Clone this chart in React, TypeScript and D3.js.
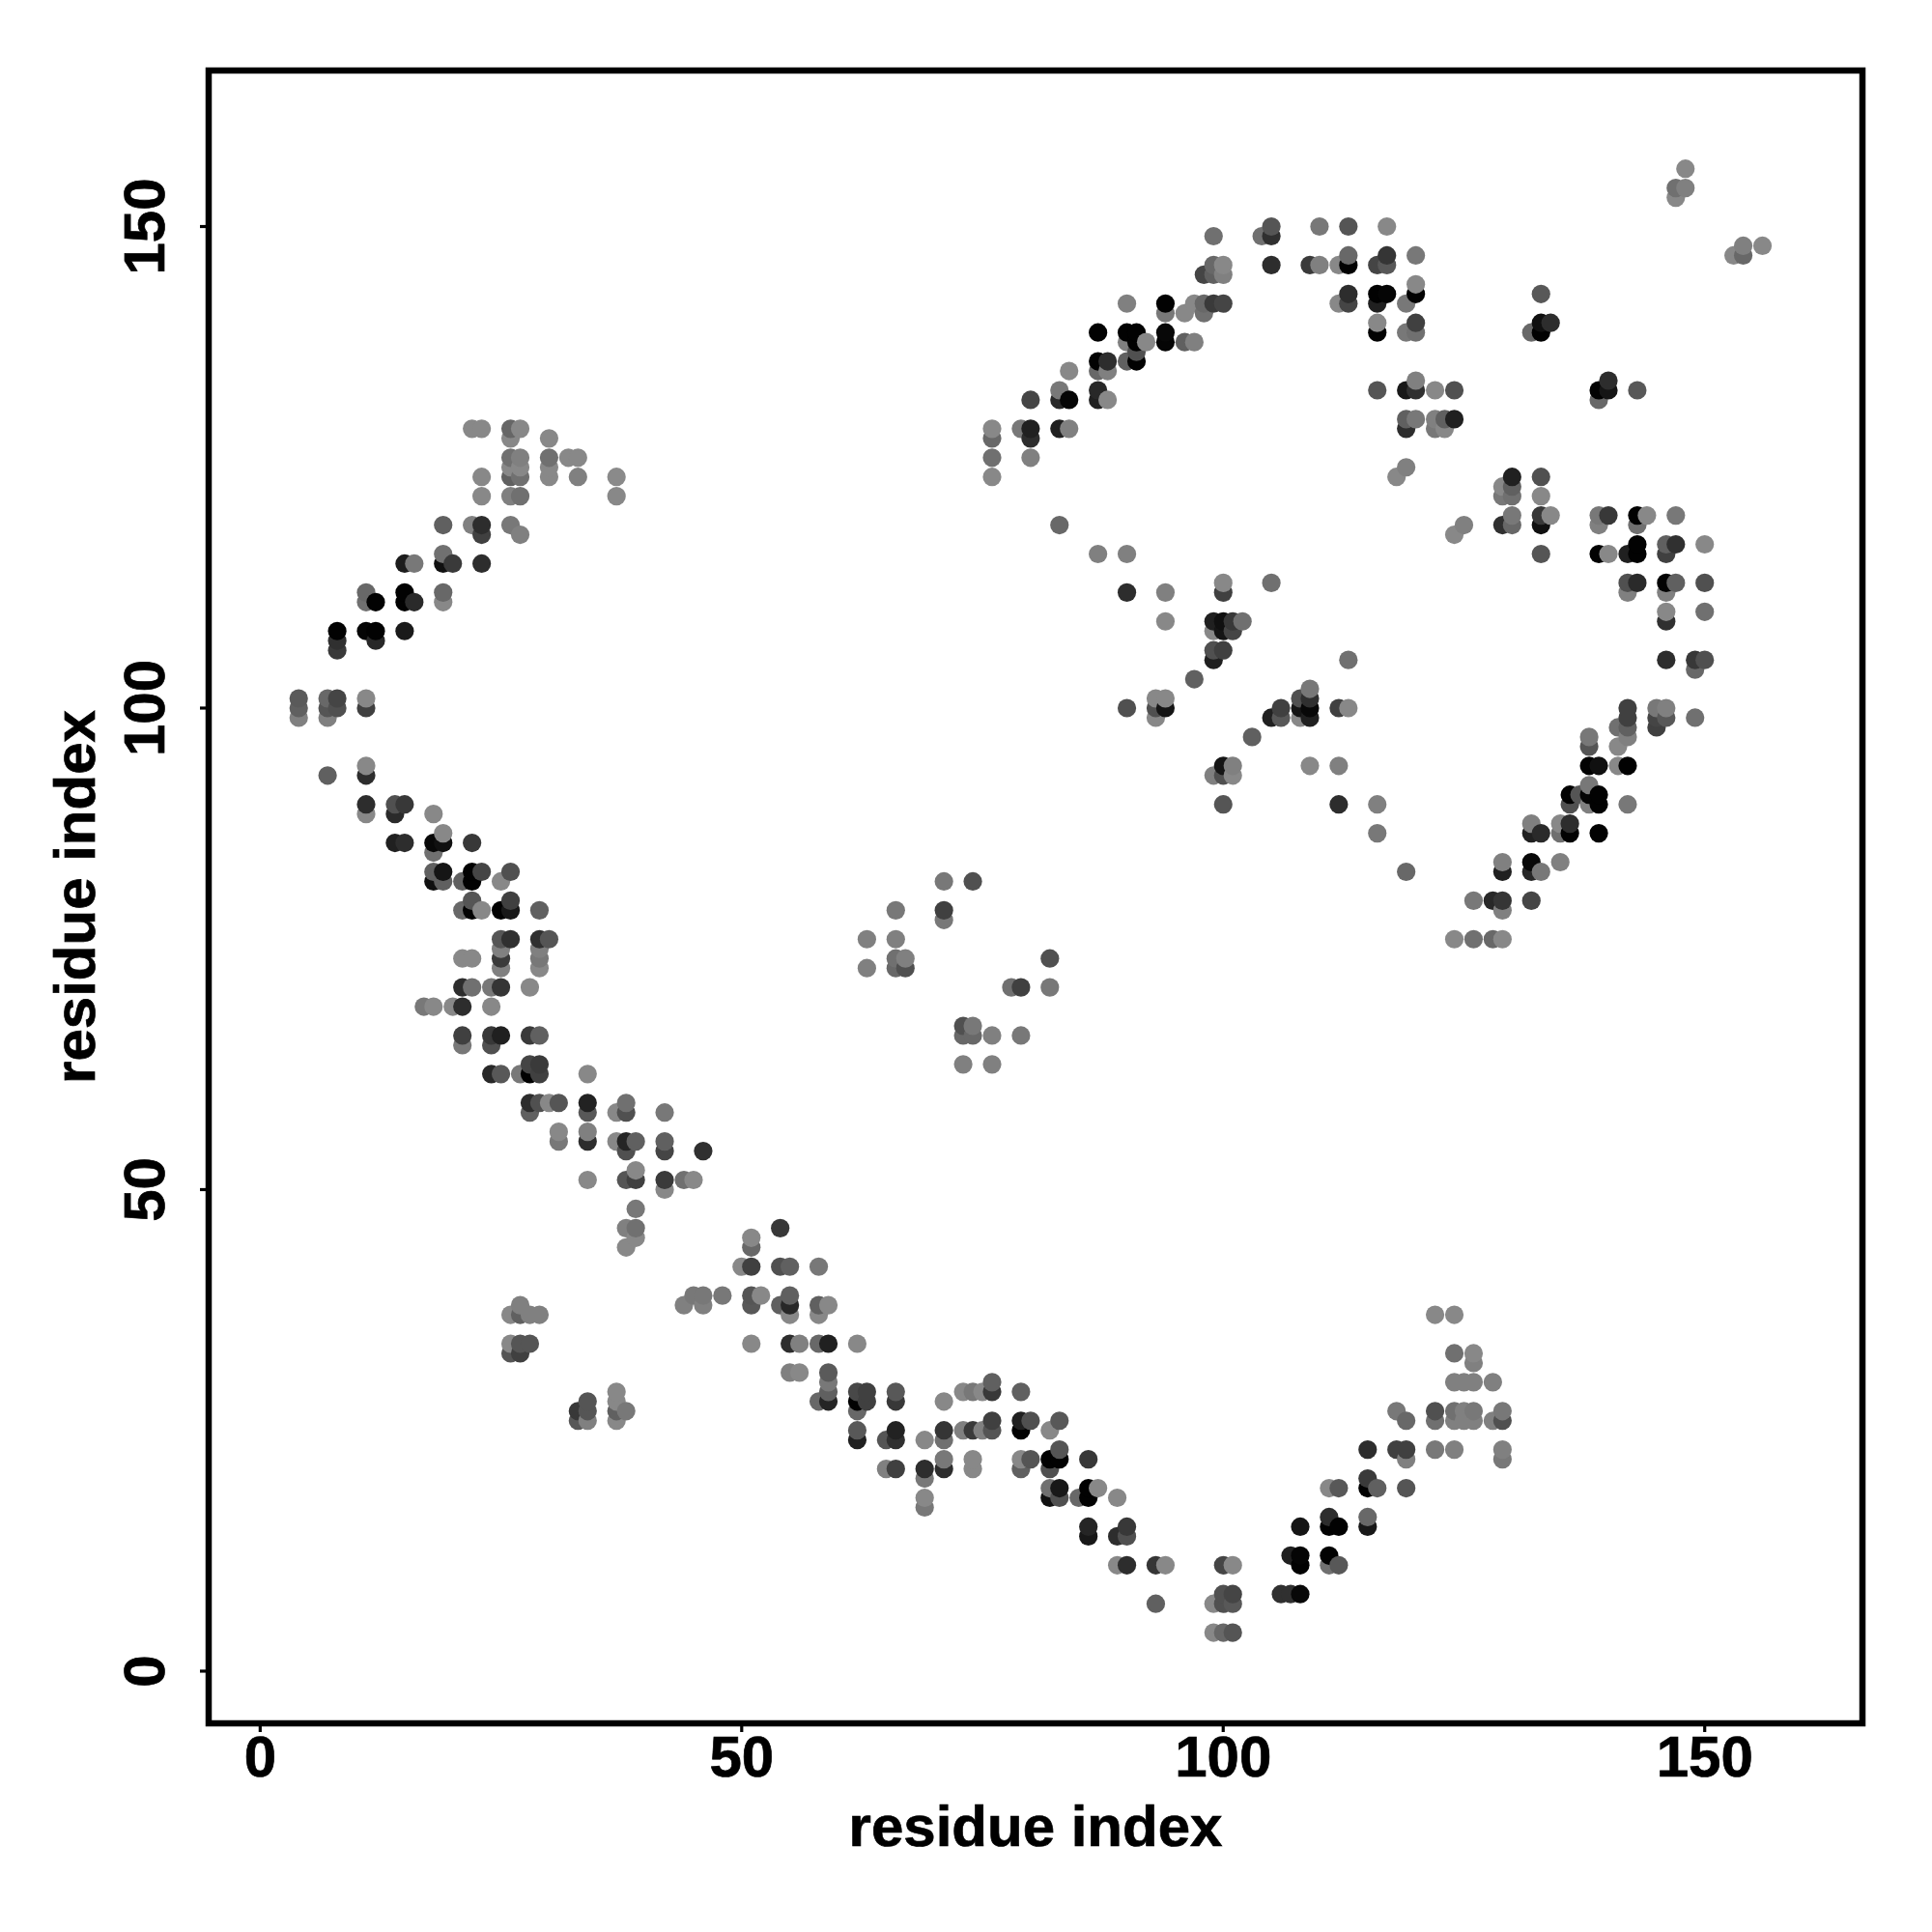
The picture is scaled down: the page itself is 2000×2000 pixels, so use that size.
import React from "react";
import * as d3 from "d3";

type Contact = [number, number, number]; // residue i, residue j, grey level

const xTicks = [0, 50, 100, 150];
const yTicks = [0, 50, 100, 150];
const xLabel = "residue index";
const yLabel = "residue index";

const nTermUpper: Contact[] = [
  [22,129,0x88],[23,129,0x88],[26,129,0x66],[27,129,0x88],[26,128,0x88],[30,128,0x88],
  [26,126,0x70],[27,126,0x80],[30,126,0x70],[32,126,0x88],[33,126,0x88],[26,125,0x88],[27,125,0x88],[30,125,0x88],
  [23,124,0x88],[26,124,0x60],[27,124,0x70],[30,124,0x88],[33,124,0x80],[37,124,0x8a],
  [23,122,0x88],[26,122,0x80],[27,122,0x70],[37,122,0x88],
  [19,119,0x60],[22,119,0x80],[23,119,0x2d],[26,119,0x78],[23,118,0x40],[27,118,0x80],
  [19,116,0x70],[15,115,0x1c],[16,115,0x78],[19,115,0x10],[20,115,0x3a],[23,115,0x2d],
  [11,112,0x68],[15,112,0x02],[19,112,0x68],[11,111,0x70],[12,111,0x02],[15,111,0x02],[16,111,0x2a],[19,111,0x88],
  [8,108,0x02],[11,108,0x05],[12,108,0x02],[15,108,0x1a],[8,107,0x30],[12,107,0x28],[8,106,0x3a],
  [4,101,0x5a],[7,101,0x68],[8,101,0x45],[11,101,0x88],[4,100,0x60],[7,100,0x55],[8,100,0x50],[11,100,0x40],
  [4,99,0x80],[7,99,0x80],[11,94,0x88],[7,93,0x60],[11,93,0x2d],
];

const nTermLower: Contact[] = [
  [11,90,0x2d],[14,90,0x50],[15,90,0x38],[11,89,0x88],[14,89,0x2a],[18,89,0x88],[19,87,0x88],
  [14,86,0x20],[15,86,0x2d],[18,86,0x08],[19,86,0x10],[22,86,0x38],[18,85,0x70],
  [18,83,0x60],[19,83,0x15],[22,83,0x02],[23,83,0x45],[26,83,0x50],
  [18,82,0x10],[19,82,0x60],[21,82,0x60],[22,82,0x02],[25,82,0x88],[22,80,0x55],[26,80,0x40],
  [21,79,0x68],[22,79,0x02],[23,79,0x88],[25,79,0x02],[26,79,0x18],[29,79,0x60],
  [25,76,0x55],[26,76,0x30],[29,76,0x30],[30,76,0x55],[25,75,0x80],[29,75,0x80],
  [21,74,0x88],[22,74,0x88],[25,74,0x3a],[29,74,0x78],[25,73,0x80],[29,73,0x88],
  [21,71,0x2d],[22,71,0x70],[24,71,0x78],[25,71,0x35],[28,71,0x88],
  [17,69,0x78],[18,69,0x88],[20,69,0x88],[21,69,0x2d],[24,69,0x88],
  [21,66,0x40],[24,66,0x38],[25,66,0x20],[28,66,0x3a],[29,66,0x60],[21,65,0x78],[24,65,0x50],
  [28,63,0x45],[29,63,0x3a],[24,62,0x28],[25,62,0x58],[27,62,0x78],[28,62,0x02],[29,62,0x40],[34,62,0x88],
  [28,59,0x2d],[29,59,0x50],[30,59,0x88],[31,59,0x55],[34,59,0x22],[38,59,0x70],
  [28,58,0x60],[34,58,0x58],[37,58,0x88],[38,58,0x50],[42,58,0x78],[31,56,0x88],[34,56,0x80],
  [31,55,0x78],[34,55,0x2d],[37,55,0x88],[38,55,0x25],[39,55,0x60],[42,55,0x60],
  [38,54,0x50],[42,54,0x45],[46,54,0x30],[39,52,0x88],
  [34,51,0x88],[38,51,0x55],[39,51,0x40],[42,51,0x3a],[44,51,0x70],[45,51,0x88],[42,50,0x88],
  [39,48,0x78],[38,46,0x80],[39,46,0x70],[39,45,0x88],[38,44,0x88],
];

const lowerBand: Contact[] = [
  [54,46,0x38],[51,45,0x88],[51,44,0x68],
  [50,42,0x88],[51,42,0x40],[54,42,0x50],[55,42,0x60],[58,42,0x78],
  [45,39,0x78],[46,39,0x78],[48,39,0x78],[51,39,0x55],[52,39,0x88],[55,39,0x60],
  [44,38,0x80],[46,38,0x80],[51,38,0x58],[54,38,0x60],[55,38,0x28],[58,38,0x60],[59,38,0x88],
  [55,37,0x88],[58,37,0x88],
  [51,34,0x88],[55,34,0x2d],[56,34,0x80],[58,34,0x68],[59,34,0x20],[62,34,0x88],
  [55,31,0x80],[56,31,0x88],[59,31,0x5a],[59,30,0x78],
  [59,29,0x60],[62,29,0x48],[63,29,0x40],[66,29,0x58],
  [58,28,0x68],[59,28,0x25],[62,28,0x02],[63,28,0x40],[66,28,0x38],
  [62,27,0x68],[62,25,0x58],[66,25,0x22],[62,24,0x20],[65,24,0x55],[66,24,0x30],
  [65,21,0x80],[66,21,0x40],
];

const sideIslands: Contact[] = [
  [27,38,0x80],[26,37,0x88],[27,37,0x60],[28,37,0x80],[29,37,0x80],
  [26,34,0x88],[27,34,0x55],[28,34,0x55],[26,33,0x55],[27,33,0x40],
  [37,29,0x88],[34,28,0x55],[37,28,0x88],[33,27,0x38],[34,27,0x55],[37,27,0x60],[38,27,0x78],
  [33,26,0x58],[34,26,0x80],[37,26,0x88],
];

const lowerValley: Contact[] = [
  [76,30,0x60],[73,29,0x88],[74,29,0x78],[75,29,0x88],[76,29,0x38],[79,29,0x60],[71,28,0x88],
  [76,26,0x40],[79,26,0x20],[80,26,0x50],[83,26,0x58],
  [71,25,0x35],[73,25,0x80],[74,25,0x3a],[75,25,0x80],[76,25,0x55],[79,25,0x02],[82,25,0x88],
  [69,24,0x88],[71,24,0x70],[83,23,0x55],
  [71,22,0x78],[74,22,0x88],[79,22,0x88],[80,22,0x55],[82,22,0x02],[83,22,0x02],[86,22,0x38],
  [69,21,0x2d],[71,21,0x2d],[74,21,0x88],[79,21,0x60],[82,21,0x50],[69,20,0x78],
  [82,19,0x70],[83,19,0x18],[86,19,0x02],[87,19,0x88],
  [69,18,0x88],[82,18,0x10],[83,18,0x50],[85,18,0x68],[86,18,0x02],[89,18,0x88],[69,17,0x78],
  [86,15,0x25],[90,15,0x38],[86,14,0x18],[89,14,0x2d],[90,14,0x50],
  [89,11,0x88],[90,11,0x2d],[93,11,0x35],[94,11,0x88],[100,11,0x45],[101,11,0x88],
  [100,8,0x50],[101,8,0x45],[93,7,0x60],[99,7,0x88],[100,7,0x50],[101,7,0x58],
  [99,4,0x88],[100,4,0x68],[101,4,0x55],
];

const lowerRise: Contact[] = [
  [106,8,0x30],[107,8,0x30],[108,8,0x08],[107,12,0x20],[108,12,0x05],[111,12,0x02],
  [108,11,0x02],[111,11,0x70],[112,11,0x58],[108,15,0x15],[111,16,0x2d],[111,15,0x02],[112,15,0x02],
  [115,16,0x68],[115,15,0x18],[111,19,0x88],[112,19,0x58],[115,20,0x3a],[115,19,0x02],[116,19,0x60],
  [115,23,0x2d],[118,23,0x40],[119,23,0x40],[119,22,0x80],[119,19,0x55],[122,23,0x78],[124,23,0x80],
  [129,23,0x80],[129,22,0x78],
  [122,37,0x88],[124,37,0x88],[124,33,0x70],[126,33,0x88],[126,32,0x80],
  [124,30,0x80],[125,30,0x80],[126,30,0x80],[128,30,0x80],
  [118,27,0x78],[122,27,0x50],[124,27,0x70],[125,27,0x80],[126,27,0x78],[129,27,0x78],
  [119,26,0x68],[122,26,0x70],[124,26,0x80],[125,26,0x80],[126,26,0x80],[128,26,0x80],[129,26,0x50],
];

const upperArc: Contact[] = [
  [105,150,0x55],[110,150,0x78],[113,150,0x55],[117,150,0x88],[99,149,0x70],[104,149,0x70],[105,149,0x30],
  [113,147,0x68],[117,147,0x35],[120,147,0x78],[99,146,0x68],[100,146,0x88],[105,146,0x2d],[109,146,0x3a],[110,146,0x80],
  [112,146,0x88],[113,146,0x02],[116,146,0x45],[117,146,0x58],[98,145,0x45],[99,145,0x60],[100,145,0x80],
  [120,144,0x88],[113,143,0x2d],[116,143,0x02],[117,143,0x05],[120,143,0x02],
  [90,142,0x80],[94,142,0x02],[97,142,0x88],[98,142,0x68],[99,142,0x3a],[100,142,0x45],[112,142,0x88],[113,142,0x45],[116,142,0x20],[119,142,0x78],
  [94,141,0x78],[96,141,0x88],[98,141,0x70],[116,140,0x88],[120,140,0x40],
  [87,139,0x02],[90,139,0x02],[91,139,0x02],[94,139,0x08],[116,139,0x02],[119,139,0x78],[120,139,0x70],
  [90,138,0x80],[91,138,0x02],[92,138,0x88],[94,138,0x05],[96,138,0x60],[97,138,0x80],[91,137,0x50],
  [87,136,0x02],[88,136,0x2d],[90,136,0x60],[91,136,0x02],[84,135,0x88],[87,135,0x68],[88,135,0x80],
  [120,134,0x80],[83,133,0x78],[87,133,0x28],[116,133,0x55],[119,133,0x18],[120,133,0x30],
  [80,132,0x45],[83,132,0x28],[84,132,0x05],[87,132,0x20],[88,132,0x88],
  [119,130,0x60],[120,130,0x78],[76,129,0x88],[79,129,0x78],[80,129,0x20],[83,129,0x20],[84,129,0x80],[119,129,0x2d],
  [76,128,0x68],[80,128,0x2d],[76,126,0x70],[80,126,0x80],[76,124,0x88],[119,125,0x80],[118,124,0x88],
];

const upperRight: Contact[] = [
  [148,156,0x88],[147,154,0x70],[148,154,0x80],[147,153,0x88],[154,148,0x80],[156,148,0x88],[153,147,0x88],[154,147,0x68],
  [133,143,0x58],[133,140,0x10],[134,140,0x2d],[132,139,0x68],[133,139,0x02],
  [140,134,0x2d],[122,133,0x88],[124,133,0x50],[139,133,0x02],[140,133,0x15],[143,133,0x58],[139,132,0x68],
  [122,130,0x80],[123,130,0x60],[124,130,0x20],[122,129,0x78],[123,129,0x88],
  [130,124,0x20],[133,124,0x50],[129,123,0x88],[130,123,0x60],[129,122,0x78],[130,122,0x70],[133,122,0x88],
  [130,120,0x78],[133,120,0x38],[134,120,0x88],[139,120,0x78],[140,120,0x38],[143,120,0x02],[144,120,0x88],[147,120,0x78],
  [125,119,0x80],[129,119,0x30],[130,119,0x68],[133,119,0x10],[139,119,0x80],[143,119,0x70],[124,118,0x88],
  [143,117,0x02],[146,117,0x60],[147,117,0x30],[150,117,0x88],
  [133,116,0x55],[139,116,0x02],[140,116,0x88],[142,116,0x20],[143,116,0x02],[146,116,0x40],
  [142,113,0x50],[143,113,0x2a],[146,113,0x02],[147,113,0x60],[150,113,0x50],[142,112,0x80],[146,112,0x80],
  [146,110,0x88],[150,110,0x70],[146,109,0x30],[146,105,0x2d],[149,105,0x38],[150,105,0x50],[149,104,0x68],
];

const rightDiagonal: Contact[] = [
  [142,100,0x40],[145,100,0x78],[146,100,0x80],[142,99,0x40],[145,99,0x45],[146,99,0x58],[149,99,0x70],
  [141,98,0x70],[142,98,0x60],[145,98,0x40],[138,97,0x78],[142,97,0x80],[138,96,0x55],[141,96,0x88],
  [138,94,0x02],[139,94,0x10],[141,94,0x88],[142,94,0x02],[138,92,0x78],
  [136,91,0x02],[137,91,0x55],[138,91,0x05],[139,91,0x02],[136,90,0x50],[138,90,0x80],[139,90,0x02],[142,90,0x78],
  [132,88,0x80],[135,88,0x88],[136,88,0x2d],[132,87,0x20],[133,87,0x2a],[135,87,0x70],[136,87,0x02],[139,87,0x02],
  [129,84,0x80],[132,84,0x08],[135,84,0x80],[129,83,0x20],[132,83,0x28],[133,83,0x78],
  [126,80,0x78],[128,80,0x28],[129,80,0x35],[132,80,0x45],[129,79,0x80],
  [124,76,0x88],[126,76,0x70],[128,76,0x68],[129,76,0x88],
];

const innerStreaks: Contact[] = [
  [83,119,0x68],[87,116,0x80],[90,116,0x80],[100,113,0x88],[105,113,0x70],[90,112,0x2d],[94,112,0x80],[100,112,0x40],
  [94,109,0x88],[99,109,0x20],[100,109,0x10],[101,109,0x38],[102,109,0x70],[99,108,0x88],[100,108,0x15],[101,108,0x45],
  [99,106,0x50],[100,106,0x40],[99,105,0x20],[113,105,0x70],[97,103,0x60],[109,102,0x78],
  [93,101,0x88],[94,101,0x88],[108,101,0x50],[109,101,0x30],
  [90,100,0x50],[93,100,0x50],[94,100,0x15],[106,100,0x40],[108,100,0x15],[109,100,0x08],[112,100,0x40],[113,100,0x88],
  [93,99,0x88],[105,99,0x20],[106,99,0x58],[108,99,0x88],[109,99,0x20],[103,97,0x60],
  [100,94,0x15],[101,94,0x80],[109,94,0x88],[112,94,0x80],[99,93,0x80],[100,93,0x50],[101,93,0x88],
  [100,90,0x55],[112,90,0x2d],[116,90,0x80],[116,87,0x78],[119,83,0x68],
];

const centralIsland: Contact[] = [
  [71,82,0x78],[74,82,0x50],[66,79,0x78],[71,79,0x40],[71,78,0x78],[63,76,0x80],[66,76,0x80],
  [66,74,0x70],[67,74,0x80],[82,74,0x50],[63,73,0x80],[66,73,0x68],[67,73,0x50],
  [78,71,0x70],[79,71,0x40],[82,71,0x78],[73,67,0x50],[74,67,0x78],[73,66,0x68],[74,66,0x68],[76,66,0x80],[79,66,0x78],
  [73,63,0x80],[76,63,0x80],
];

const contacts: Contact[] = [
  ...nTermUpper, ...nTermLower, ...lowerBand, ...sideIslands, ...lowerValley, ...lowerRise,
  ...upperArc, ...upperRight, ...rightDiagonal, ...innerStreaks, ...centralIsland,
].sort((a, b) => d3.ascending(a[0], b[0]) || d3.ascending(a[1], b[1]));

const FONT = "'Liberation Sans', Arial, sans-serif";
const frame = { left: 216, right: 1928, top: 73, bottom: 1784 };
const x = d3.scaleLinear().domain([-5.35, 166.38]).range([frame.left, frame.right]);
const y = d3.scaleLinear().domain([-5.42, 166.2]).range([frame.bottom, frame.top]);
const textStyle = { fontFamily: FONT, fontWeight: 700, fontSize: 60, fill: "#000", stroke: "#000", strokeWidth: 0.7 };

export default function App() {
  return (
    <svg width={2000} height={2000} viewBox="0 0 2000 2000"
      style={{ position: "absolute", left: 0, top: 0, background: "#fff" }}>
      {contacts.map(([i, j, g], k) => (
        <circle key={k} cx={x(i)} cy={y(j)} r={9.6} fill={d3.rgb(g, g, g).formatHex()} />
      ))}
      <rect x={frame.left} y={frame.top} width={frame.right - frame.left} height={frame.bottom - frame.top}
        fill="none" stroke="#000" strokeWidth={6.5} />
      {xTicks.map((t) => (
        <g key={t}>
          <line x1={x(t)} x2={x(t)} y1={frame.bottom} y2={frame.bottom + 9} stroke="#000" strokeWidth={3.2} />
          <text x={x(t)} y={1839} textAnchor="middle" style={textStyle}>{t}</text>
        </g>
      ))}
      {yTicks.map((t) => (
        <g key={t}>
          <line x1={frame.left - 9} x2={frame.left} y1={y(t)} y2={y(t)} stroke="#000" strokeWidth={3.2} />
          <text transform={`translate(170,${y(t)}) rotate(-90)`} textAnchor="middle" style={textStyle}>{t}</text>
        </g>
      ))}
      <text x={(frame.left + frame.right) / 2} y={1911} textAnchor="middle" style={textStyle}>{xLabel}</text>
      <text transform={`translate(98,${(frame.top + frame.bottom) / 2}) rotate(-90)`} textAnchor="middle" style={textStyle}>{yLabel}</text>
    </svg>
  );
}
